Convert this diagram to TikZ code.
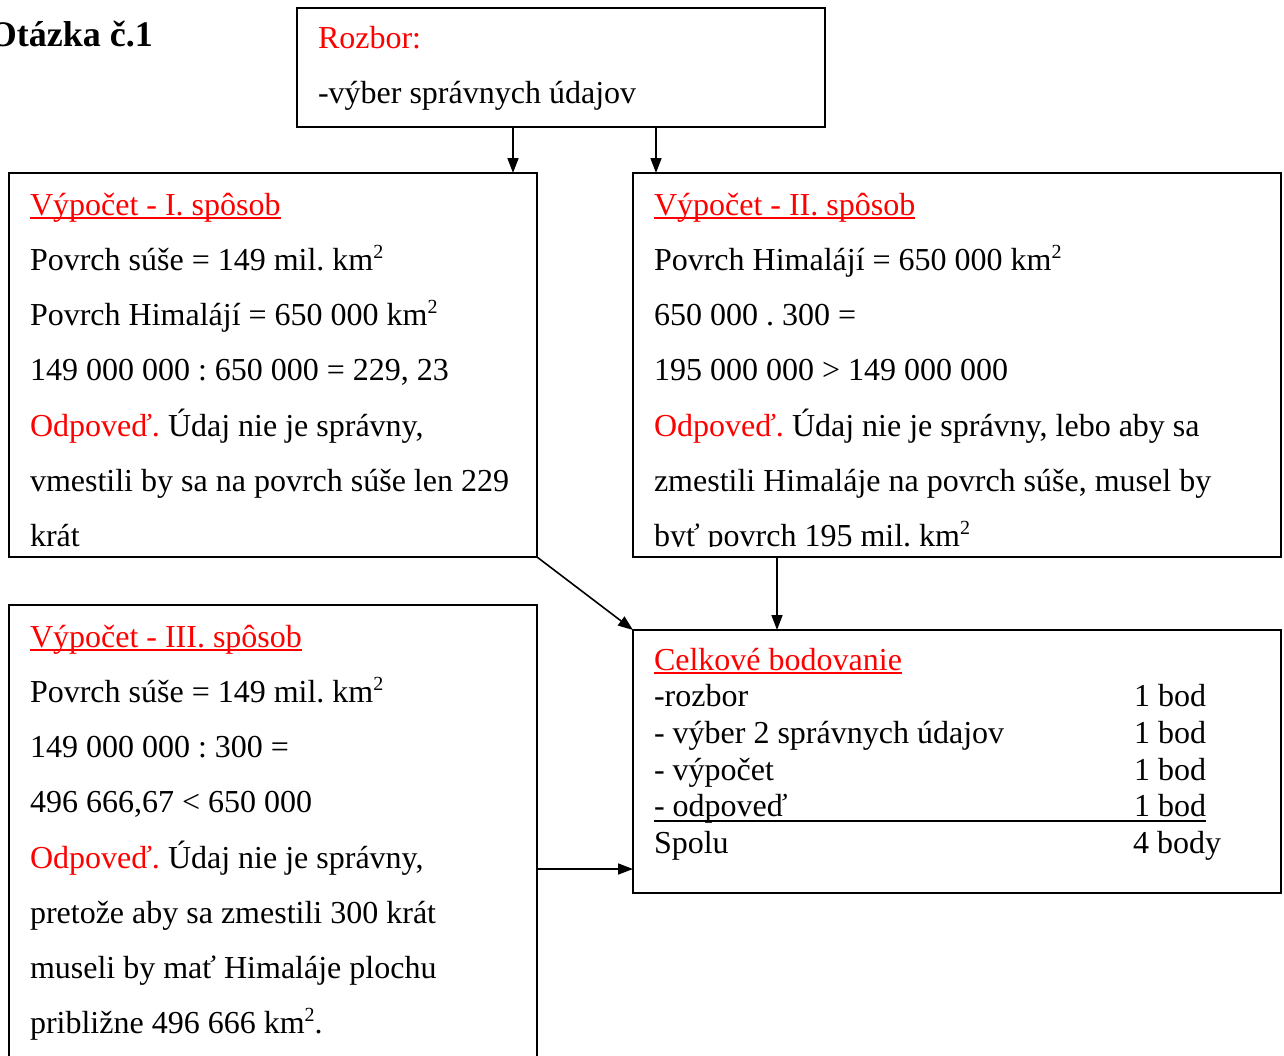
\documentclass[tikz,border=0pt]{standalone}
\usepackage{fontspec}
\setmainfont{Liberation Serif}
\usetikzlibrary{arrows.meta}
\frenchspacing
\newcommand\bodyfs{\fontsize{32}{38}\selectfont}
\newcommand\uln[1]{\setbox0\hbox{#1}\rlap{\rule[-4pt]{\wd0}{1.8pt}}\box0}
\newcommand\km{km\raisebox{12pt}{\fontsize{20}{20}\selectfont 2}}
\begin{document}
\begin{tikzpicture}[x=1pt,y=-1pt,
  box/.style={draw, line width=1.6pt, inner sep=0pt, outer sep=0pt, anchor=north west},
  txt/.style={anchor=base west, inner sep=0pt, outer sep=0pt, font=\bodyfs},
  rtxt/.style={txt, text=red},
  arr/.style={line width=1.6pt, -{Triangle[length=15pt,width=11pt]}}]
\useasboundingbox (0,0) rectangle (1284,1055);
% title
\node[anchor=base east, inner sep=0pt, font=\fontsize{36}{40}\selectfont\bfseries] (title) at (153,46) {Otázka č.1};
% boxes
\node[box, minimum width=528, minimum height=119] (rozbor) at (297,8) {};
\node[box, minimum width=528, minimum height=384] (b1) at (9,173) {};
\node[box, minimum width=648, minimum height=384] (b2) at (633,173) {};
\node[box, minimum width=528, minimum height=470] (b3) at (9,605) {};
\node[box, minimum width=648, minimum height=263] (tot) at (633,630) {};
% rozbor text
\node[rtxt] (r1) at (318,48) {Rozbor:};
\node[txt] (r2) at (318,103) {-výber správnych údajov};
% box I
\node[rtxt] (a1) at (30,215) {\uln{Výpočet - I. spôsob}};
\node[txt] (a2) at (30,270) {Povrch súše = 149 mil. \km};
\node[txt] (a3) at (30,325) {Povrch Himalájí = 650 000 \km};
\node[txt] (a4) at (30,380) {149 000 000 : 650 000 = 229, 23};
\node[txt] (a5) at (30,436) {{\color{red}Odpoveď.} Údaj nie je správny,};
\node[txt] (a6) at (30,491) {vmestili by sa na povrch súše len 229};
\node[txt] (a7) at (30,546) {krát};
% box II
\begin{scope}
\clip (b2.north west) rectangle ([yshift=11pt]b2.south east);
\node[rtxt] (c1) at (654,215) {\uln{Výpočet - II. spôsob}};
\node[txt] (c2) at (654,270) {Povrch Himalájí = 650 000 \km};
\node[txt] (c3) at (654,325) {650 000 . 300 =};
\node[txt] (c4) at (654,380) {195 000 000 > 149 000 000};
\node[txt] (c5) at (654,436) {{\color{red}Odpoveď.} Údaj nie je správny, lebo aby sa};
\node[txt] (c6) at (654,491) {zmestili Himaláje na povrch súše, musel by};
\node[txt] (c7) at (654,546) {byť povrch 195 mil. \km};
\end{scope}
% box III
\node[rtxt] (d1) at (30,647) {\uln{Výpočet - III. spôsob}};
\node[txt] (d2) at (30,702) {Povrch súše = 149 mil. \km};
\node[txt] (d3) at (30,757) {149 000 000 : 300 =};
\node[txt] (d4) at (30,812) {496 666,67 < 650 000};
\node[txt] (d5) at (30,868) {{\color{red}Odpoveď.} Údaj nie je správny,};
\node[txt] (d6) at (30,923) {pretože aby sa zmestili 300 krát};
\node[txt] (d7) at (30,978) {museli by mať Himaláje plochu};
\node[txt] (d8) at (30,1033) {približne 496 666 \km.};
% total box
\node[rtxt] (e1) at (654,670) {\uln{Celkové bodovanie}};
\node[txt] (e2) at (654,706) {-rozbor};
\node[txt] (e3) at (654,743) {- výber 2 správnych údajov};
\node[txt] (e4) at (654,780) {- výpočet};
\node[txt] (e5) at (654,816) {- odpoveď};
\node[txt] (e6) at (654,853) {Spolu};
\node[txt] (f2) at (1134,706) {1 bod};
\node[txt] (f3) at (1134,743) {1 bod};
\node[txt] (f4) at (1134,780) {1 bod};
\node[txt] (f5) at (1134,816) {1 bod};
\node[txt] (f6) at (1133,853) {4 body};
\draw[line width=1.8pt] (e5.base west |- 0,821) -- (f5.base east |- 0,821);
% connectors
\coordinate (xa) at (513,0);
\coordinate (xb) at (656,0);
\coordinate (xc) at (777,0);
\coordinate (yc) at (0,869);
\draw[arr] (rozbor.south -| xa) -- (b1.north -| xa);
\draw[arr] (rozbor.south -| xb) -- (b2.north -| xb);
\draw[arr] (b2.south -| xc) -- (tot.north -| xc);
\draw[arr] (b1.south east) -- (tot.north west);
\draw[arr] (b3.east |- yc) -- (tot.west |- yc);
\end{tikzpicture}
\end{document}
